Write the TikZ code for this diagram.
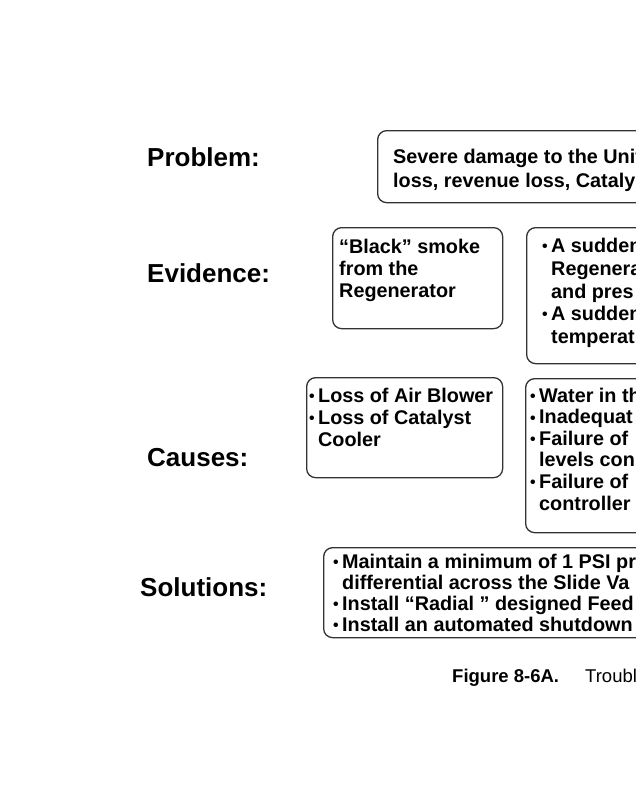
\documentclass[tikz,border=0pt]{standalone}
\usepackage{fontspec}
\setmainfont{Liberation Sans}
\newcommand\bl{\llap{\raisebox{0.5pt}{\scalebox{0.8}{•}}\hspace{3.5pt}}}
\begin{document}
\begin{tikzpicture}[x=1pt,y=-1pt,
  box/.style={draw=black!80,line width=1.3pt,rounded corners=9pt,anchor=north west,inner sep=0pt},
  lbl/.style={anchor=base west,inner sep=0pt,font=\fontsize{26}{29}\selectfont\bfseries},
  txt/.style={anchor=base west,inner sep=0pt,font=\fontsize{19.8}{22}\selectfont\bfseries},
  captxt/.style={anchor=base west,inner sep=0pt,font=\fontsize{18.5}{21}\selectfont}]
\useasboundingbox (0,0) rectangle (636,800);
\clip (0,0) rectangle (636,800);
\fill[white] (0,0) rectangle (636,800);
% labels
\node[lbl] (lp) at (147,166) {Problem:};
\node[lbl] (le) at (147,282) {Evidence:};
\node[lbl] (lc) at (147,466) {Causes:};
\node[lbl] (ls) at (140,596) {Solutions:};
% boxes
\node[box,minimum width=323pt,minimum height=72pt] (prob) at (377,130) {};
\node[box,minimum width=170pt,minimum height=101pt] (ev1) at (332,227) {};
\node[box,minimum width=174pt,minimum height=136pt] (ev2) at (526,227) {};
\node[box,minimum width=196pt,minimum height=100pt] (ca1) at (306,377) {};
\node[box,minimum width=175pt,minimum height=154pt] (ca2) at (525,378) {};
\node[box,minimum width=377pt,minimum height=90pt] (sol) at (323,547) {};
% problem text
\node[txt] (p1) at (393,163) {Severe damage to the Unit};
\node[txt] (p2) at (393,187) {loss, revenue loss, Catalys};
% evidence 1
\node[txt] (e11) at (339,253) {“Black” smoke};
\node[txt] (e12) at (339,275) {from the};
\node[txt] (e13) at (339,297) {Regenerator};
% evidence 2
\node[txt] (e21) at (551,252) {\bl A sudden};
\node[txt] (e22) at (551,275) {Regenera};
\node[txt] (e23) at (551,298) {and pres};
\node[txt] (e24) at (551,320) {\bl A sudden};
\node[txt] (e25) at (551,343) {temperat};
% causes 1
\node[txt] (c11) at (318,402) {\bl Loss of Air Blower};
\node[txt] (c12) at (318,424) {\bl Loss of Catalyst};
\node[txt] (c13) at (318,446) {Cooler};
% causes 2
\node[txt] (c21) at (539,402) {\bl Water in th};
\node[txt] (c22) at (539,423.6) {\bl Inadequat};
\node[txt] (c23) at (539,445.2) {\bl Failure of};
\node[txt] (c24) at (539,466.8) {levels con};
\node[txt] (c25) at (539,488.4) {\bl Failure of};
\node[txt] (c26) at (539,510) {controller};
% solutions
\node[txt] (s1) at (342,568) {\bl Maintain a minimum of 1 PSI pr};
\node[txt] (s2) at (342,589) {differential across the Slide Va};
\node[txt] (s3) at (342,610) {\bl Install “Radial ” designed Feed};
\node[txt] (s4) at (342,631) {\bl Install an automated shutdown};
% caption
\node[captxt] (cap1) at (452,682) {\bfseries Figure 8-6A.};
\node[captxt] (cap2) at (585,682) {Troubl};
\end{tikzpicture}
\end{document}
